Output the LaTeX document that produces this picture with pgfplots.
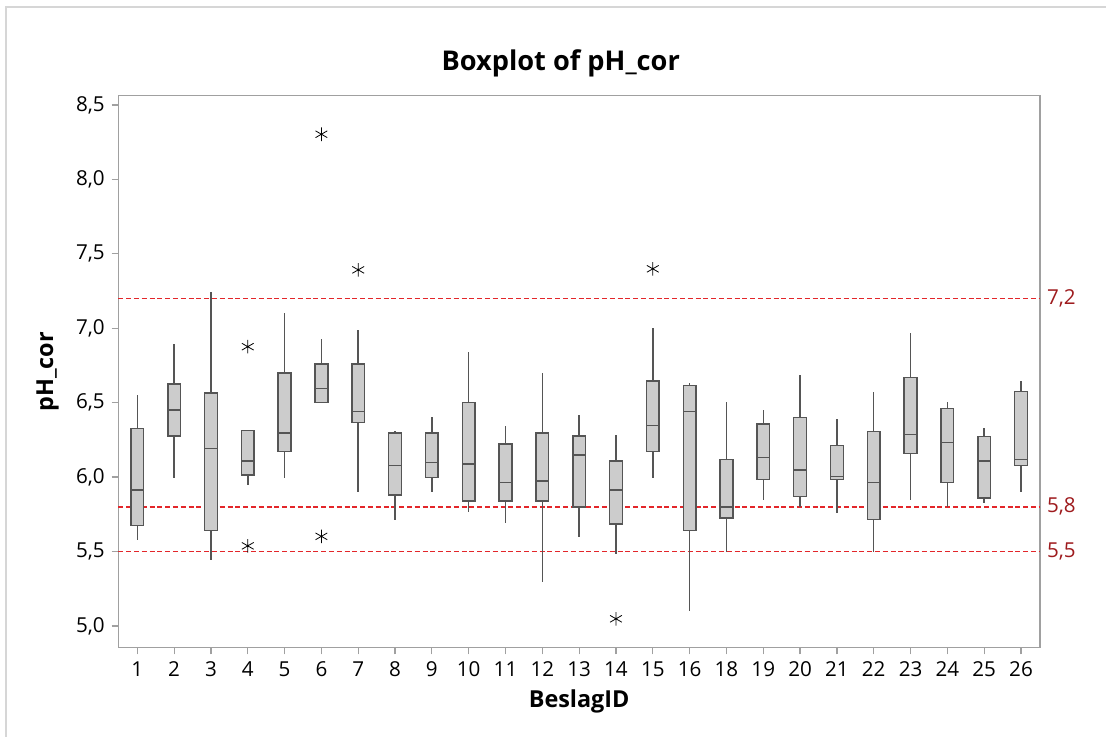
\documentclass[border=0pt]{standalone}
\usepackage{fontspec}
\setmainfont{Open Sans}
\usepackage{pgfplots}
\pgfplotsset{compat=1.18}
\usepgfplotslibrary{statistics}
\definecolor{boxline}{HTML}{555555}
\definecolor{boxfill}{HTML}{CCCCCC}
\definecolor{axisgray}{HTML}{A0A0A0}
\definecolor{refred}{HTML}{E3262A}
\definecolor{labred}{HTML}{9E1B1E}
\definecolor{framegray}{HTML}{D6D6D6}
% box: position, lower whisker, Q1, median, Q3, upper whisker
\newcommand{\bx}[6]{\addplot[boxplot prepared={draw position=#1, lower whisker=#2, lower quartile=#3, median=#4, upper quartile=#5, upper whisker=#6}] coordinates {};}
\newcommand{\bxo}[7]{\addplot[boxplot prepared={draw position=#1, lower whisker=#2, lower quartile=#3, median=#4, upper quartile=#5, upper whisker=#6}] coordinates {#7};}
\begin{document}
\begin{tikzpicture}
\path[use as bounding box] (0,0) rectangle (553pt,368.5pt);
\draw[framegray, line width=0.8pt] (3pt,0) -- (3pt,365pt) -- (553pt,365pt);
\begin{axis}[
  at={(59.15pt,44.65pt)}, anchor=south west,
  scale only axis, width=460.85pt, height=276pt,
  xmin=0.484, xmax=25.516, ymin=4.854, ymax=8.562,
  clip=false,
  axis line style={axisgray, line width=0.6pt},
  tick style={axisgray, line width=0.6pt},
  tick align=outside, major tick length=3.3pt,
  xtick={1,2,...,25},
  xticklabels={1,2,3,4,5,6,7,8,9,10,11,12,13,14,15,16,18,19,20,21,22,23,24,25,26},
  ytick={5,5.5,6,6.5,7,7.5,8,8.5},
  xtick pos=bottom, ytick pos=left,
  /pgf/number format/use comma,
  /pgf/number format/fixed,
  /pgf/number format/fixed zerofill,
  /pgf/number format/precision=1,
  /pgf/number format/assume math mode=true,
  ticklabel style={font=\fontsize{10.3}{12}\selectfont, black},
  every axis title shift=0pt,
  title={Boxplot of pH\_cor},
  title style={at={(axis description cs:0.48,1.045)}, anchor=base, font=\fontsize{13.6}{16}\selectfont\bfseries},
  xlabel={BeslagID},
  xlabel style={at={(axis description cs:0.5,-0.1087)}, anchor=base, font=\fontsize{11.7}{14}\selectfont\bfseries},
  ylabel={pH\_cor},
  ylabel style={at={(axis description cs:-0.0707,0.5)}, anchor=base, font=\fontsize{11.7}{14}\selectfont\bfseries},
  boxplot/draw direction=y,
  boxplot/box extend=0.345,
  boxplot/whisker extend=0,
  boxplot/every box/.style={draw=boxline, fill=boxfill, line width=0.75pt},
  boxplot/every whisker/.style={draw=boxline, line width=0.75pt},
  boxplot/every median/.style={draw=boxline, line width=0.75pt},
  mark=asterisk, mark size=3.4pt,
  every mark/.append style={rotate=90, draw=boxline, line width=0.7pt},
]
\addplot[color=refred, dash pattern=on 2.5pt off 1.4pt, line width=0.8pt, mark=none, forget plot] coordinates {(0.484,7.2) (25.516,7.2)};
\addplot[color=refred, dash pattern=on 2.5pt off 1.4pt, line width=0.8pt, mark=none, forget plot] coordinates {(0.484,5.8) (25.516,5.8)};
\addplot[color=refred, dash pattern=on 2.5pt off 1.4pt, line width=0.8pt, mark=none, forget plot] coordinates {(0.484,5.5) (25.516,5.5)};
\bx{1}{5.576}{5.674}{5.912}{6.327}{6.552}
\bx{2}{5.993}{6.276}{6.449}{6.624}{6.895}
\bx{3}{5.442}{5.641}{6.193}{6.564}{7.245}
\bxo{4}{5.950}{6.013}{6.109}{6.312}{6.312}{(0,6.876) (0,5.538)}
\bx{5}{5.993}{6.171}{6.296}{6.699}{7.104}
\bxo{6}{6.500}{6.500}{6.595}{6.761}{6.929}{(0,8.303) (0,5.602)}
\bxo{7}{5.900}{6.368}{6.440}{6.761}{6.989}{(0,7.392)}
\bx{8}{5.713}{5.881}{6.077}{6.296}{6.312}
\bx{9}{5.900}{5.996}{6.099}{6.296}{6.401}
\bx{10}{5.766}{5.840}{6.087}{6.500}{6.843}
\bx{11}{5.694}{5.840}{5.965}{6.221}{6.346}
\bx{12}{5.298}{5.840}{5.974}{6.296}{6.699}
\bx{13}{5.600}{5.799}{6.149}{6.276}{6.420}
\bxo{14}{5.485}{5.684}{5.912}{6.109}{6.286}{(0,5.048)}
\bxo{15}{5.993}{6.171}{6.346}{6.646}{7.001}{(0,7.399)}
\bx{16}{5.101}{5.641}{6.440}{6.615}{6.631}
\bx{17}{5.497}{5.725}{5.799}{6.118}{6.502}
\bx{18}{5.845}{5.984}{6.130}{6.356}{6.452}
\bx{19}{5.799}{5.871}{6.046}{6.399}{6.689}
\bx{20}{5.756}{5.984}{6.005}{6.212}{6.389}
\bx{21}{5.497}{5.715}{5.965}{6.305}{6.574}
\bx{22}{5.845}{6.159}{6.286}{6.670}{6.970}
\bx{23}{5.799}{5.962}{6.233}{6.461}{6.502}
\bx{24}{5.825}{5.859}{6.109}{6.274}{6.327}
\bx{25}{5.900}{6.077}{6.118}{6.574}{6.646}
\node[anchor=west, text=labred, inner sep=0pt, xshift=3.3pt, font=\fontsize{10.3}{12}\selectfont] at (axis cs:25.516,7.2) {7,2};
\node[anchor=west, text=labred, inner sep=0pt, xshift=3.3pt, font=\fontsize{10.3}{12}\selectfont] at (axis cs:25.516,5.8) {5,8};
\node[anchor=west, text=labred, inner sep=0pt, xshift=3.3pt, font=\fontsize{10.3}{12}\selectfont] at (axis cs:25.516,5.5) {5,5};
\end{axis}
\end{tikzpicture}
\end{document}
